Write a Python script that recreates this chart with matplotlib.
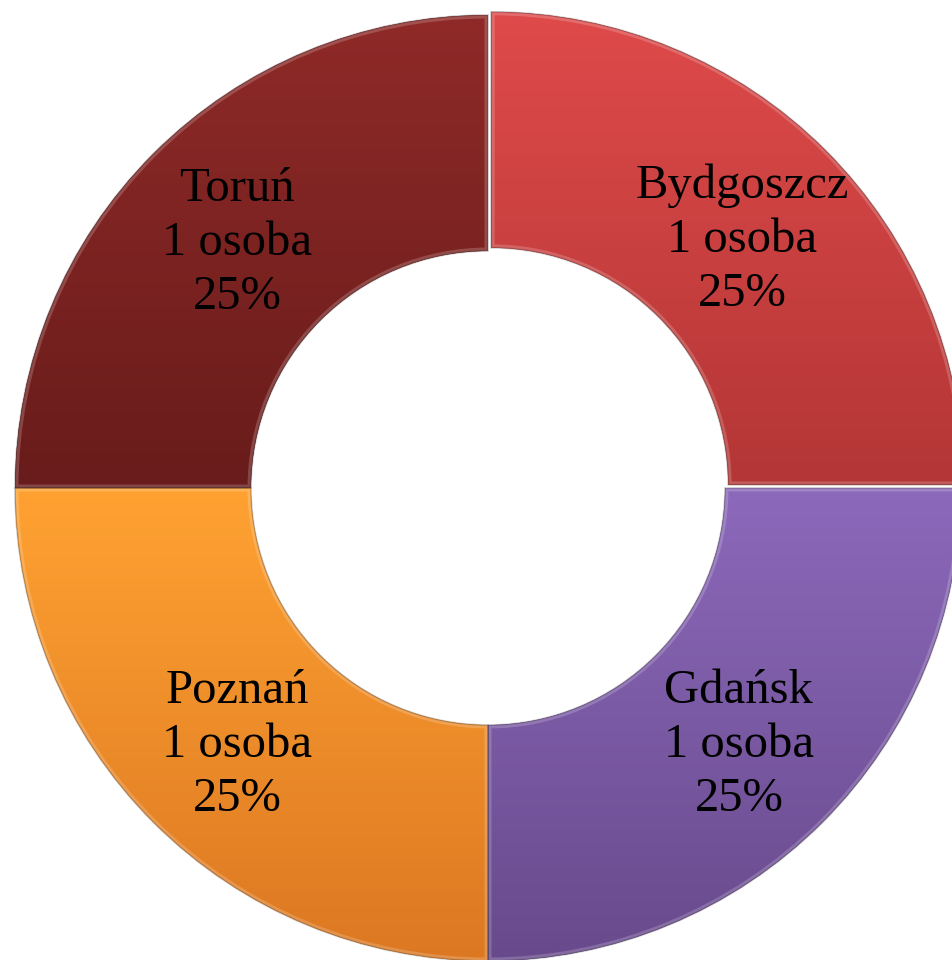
import matplotlib
matplotlib.use("Agg")
import matplotlib.pyplot as plt
import numpy as np
from matplotlib.colors import LinearSegmentedColormap
from matplotlib.patches import Wedge

cities = ["Bydgoszcz", "Gdańsk", "Poznań", "Toruń"]
counts = [1, 1, 1, 1]
shares = [25, 25, 25, 25]
explode = [4.5, 0, 0, 0]
# gradient top -> bottom for each slice
top_colors = ["#df4a4a", "#8c69bb", "#ffa232", "#8f2a28"]
bottom_colors = ["#b43636", "#684a8c", "#dc7822", "#681c1b"]

W, H = 952, 960
fig = plt.figure(figsize=(W / 100, H / 100), dpi=100)
ax = fig.add_axes([0, 0, 1, 1])

labels = [f"{c}\n{n} osoba\n{s}%" for c, n, s in zip(cities, counts, shares)]
wedges, texts = ax.pie(counts, labels=labels, startangle=90, counterclock=False,
                       radius=473, center=(488, 472), explode=explode,
                       labeldistance=0.75,
                       wedgeprops=dict(width=236, linewidth=0),
                       textprops=dict(ha="center", va="center", fontsize=35,
                                      family="Liberation Serif", color="black",
                                      linespacing=1.3, zorder=5))
for t in texts:
    x, y = t.get_position()
    t.set_position((x, y - 6))

for w, c0, c1 in zip(wedges, top_colors, bottom_colors):
    w.set_facecolor(c1)
    cmap = LinearSegmentedColormap.from_list("g", [c1, c0])
    bb = w.get_path().get_extents(w.get_patch_transform())
    grad = np.linspace(0, 1, 256).reshape(-1, 1)
    im = ax.imshow(grad, cmap=cmap, origin="lower", aspect="auto",
                   extent=(bb.x0, bb.x1, bb.y0, bb.y1), zorder=2)
    im.set_clip_path(w)
    # soft bevel: light inner rim, then thin dark outline
    rim = Wedge(w.center, w.r, w.theta1, w.theta2, width=w.width, fill=False,
                edgecolor="#ffffff30", lw=5, zorder=3)
    ax.add_patch(rim)
    rim.set_clip_path(w)
    ax.add_patch(Wedge(w.center, w.r, w.theta1, w.theta2, width=w.width,
                       fill=False, edgecolor="#00000035", lw=1.2, zorder=3))

ax.set_xlim(0, W)
ax.set_ylim(0, H)
ax.set_aspect("auto")
ax.axis("off")
fig.savefig("out.png", dpi=100, facecolor="white")
